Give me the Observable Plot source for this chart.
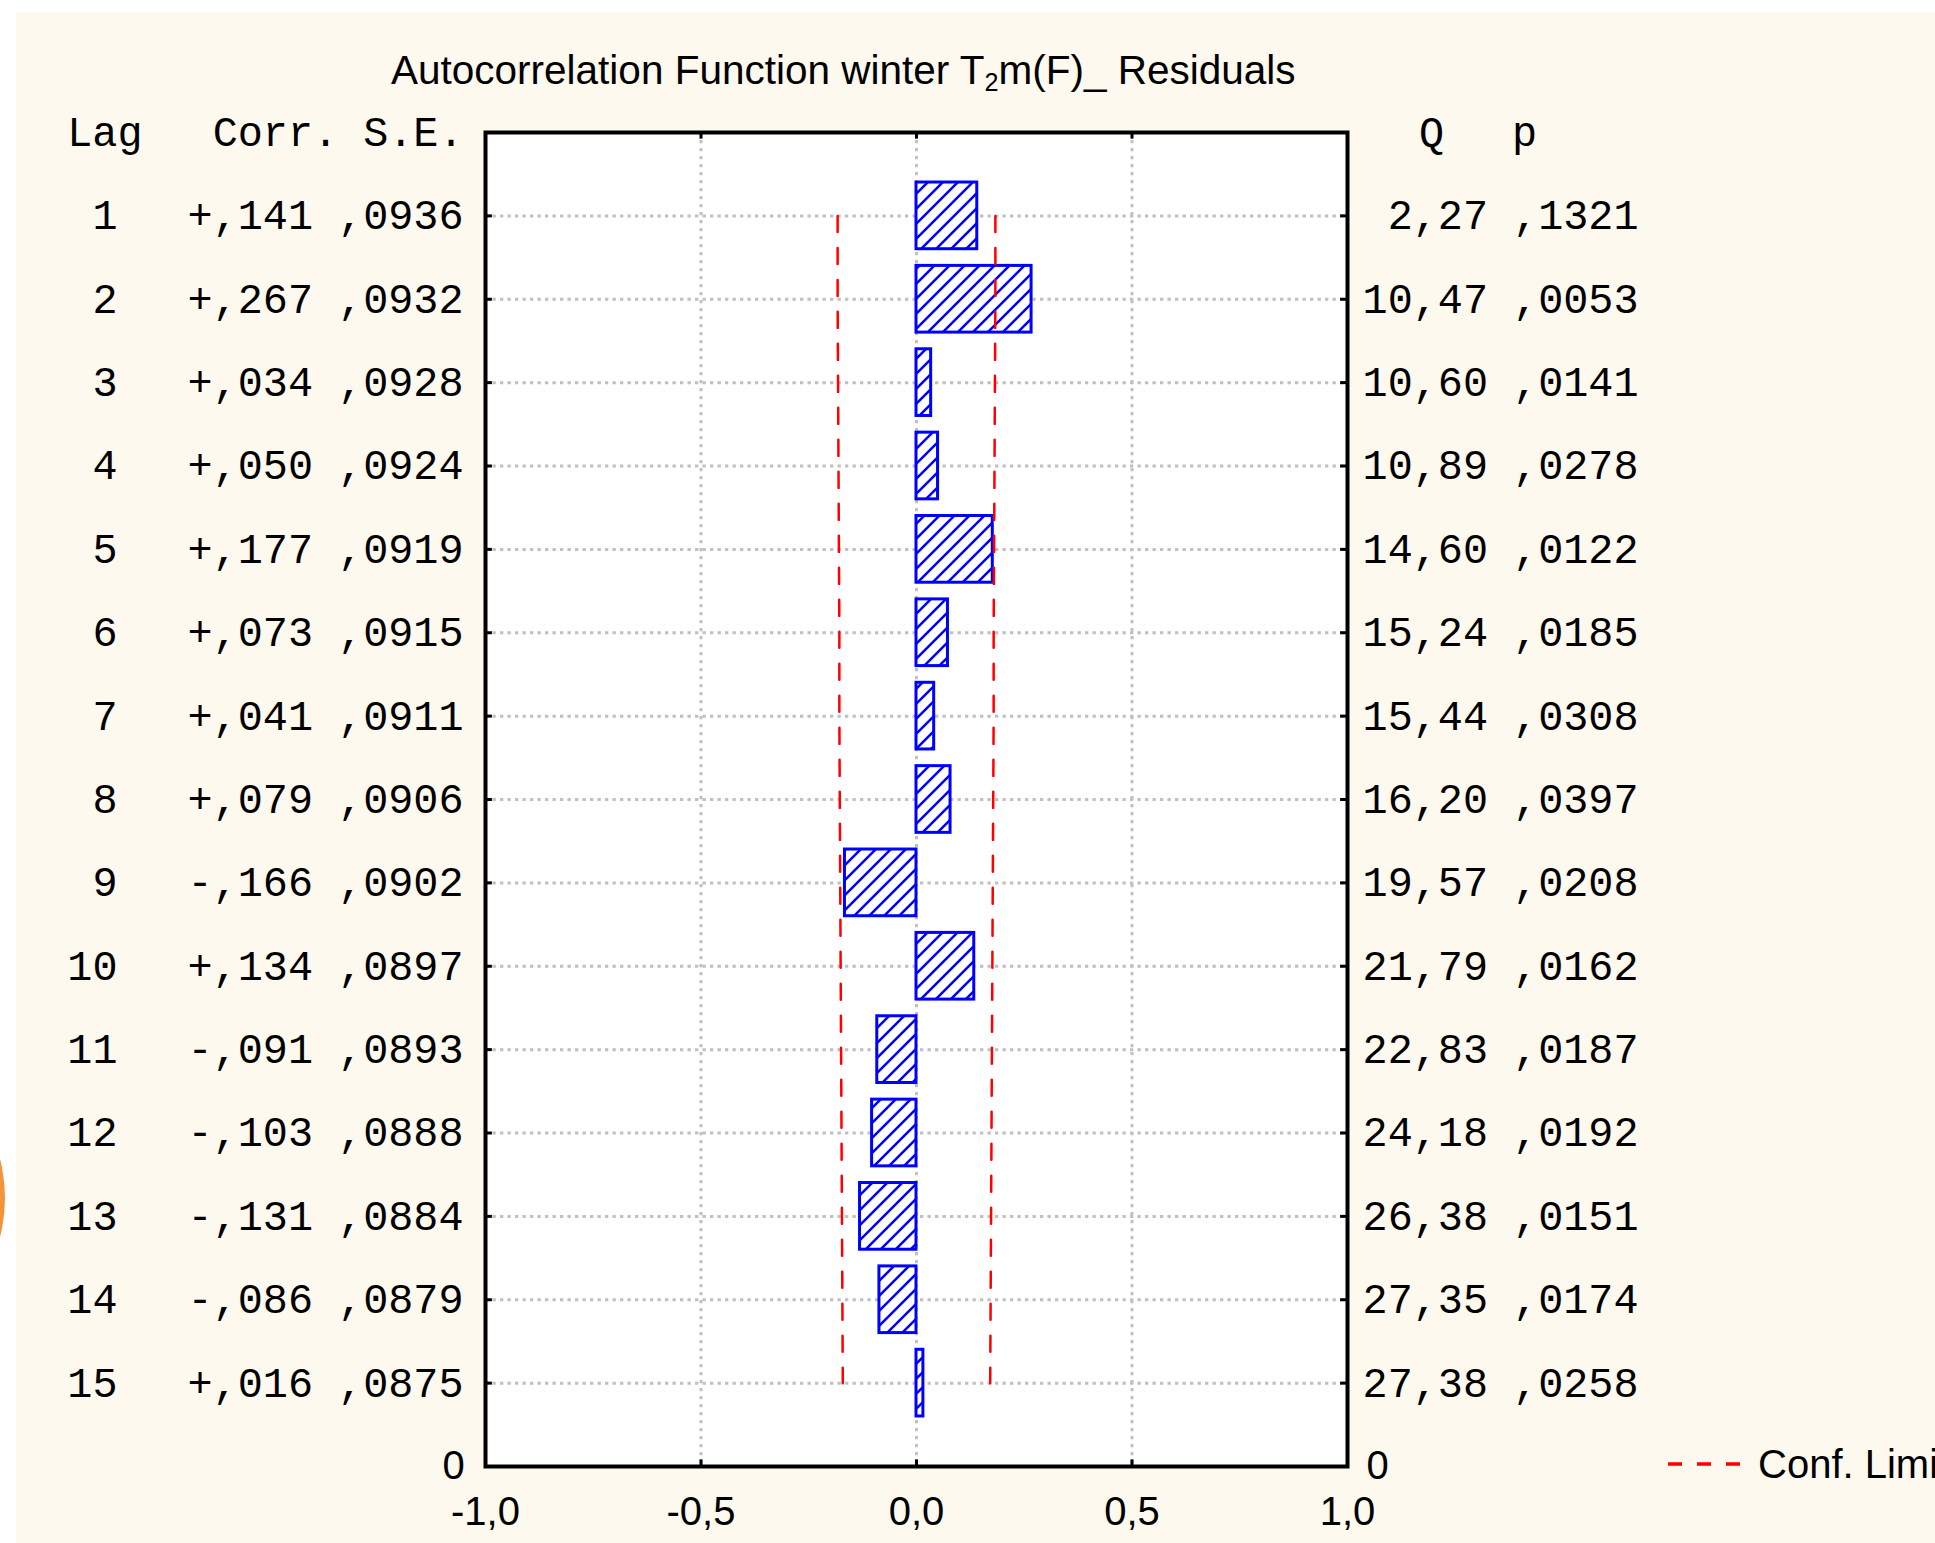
<!DOCTYPE html>
<html>
<head>
<meta charset="utf-8">
<script src="https://cdn.jsdelivr.net/npm/d3@7"></script>
<script src="https://cdn.jsdelivr.net/npm/@observablehq/plot@0.6"></script>
<style>
  html, body { margin: 0; padding: 0; background: #ffffff; width: 1935px; height: 1543px; overflow: hidden; }
  #page { position: relative; width: 1935px; height: 1543px; overflow: hidden; }
  #cream { position: absolute; left: 16px; top: 12px; right: 0; bottom: 0; background: #fef9ee; }
  #arc { position: absolute; left: -305px; top: 1043px; width: 310px; height: 310px; border-radius: 50%; background: #f4943a; }
  #chart { position: absolute; left: 0; top: 0; }
  #title { position: absolute; left: 391px; top: 50px; font: 40.5px "Liberation Sans", Arial, sans-serif; line-height: 40px; color: #000; white-space: nowrap; }
  #title sub { font-size: 0.62em; vertical-align: -0.28em; line-height: 0; }
  #legend { position: absolute; left: 1668px; top: 1444px; font: 40px "Liberation Sans", Arial, sans-serif; line-height: 40px; color: #000; white-space: nowrap; display: flex; align-items: center; }
  #legend svg { margin-right: 18px; }
</style>
</head>
<body>
<div id="page">
  <div id="arc"></div>
  <div id="cream"></div>
  <div id="chart"></div>
  <div id="title">Autocorrelation Function winter T<sub>2</sub>m(F)_ Residuals</div>
  <div id="legend"><svg width="72" height="10"><line x1="0" y1="5" x2="72" y2="5" stroke="#ff0000" stroke-width="3.5" stroke-dasharray="14,15"/></svg><span>Conf. Limit</span></div>
</div>
<script>
// ---- data ----
const lags = [1, 2, 3, 4, 5, 6, 7, 8, 9, 10, 11, 12, 13, 14, 15];
const corr = [0.141, 0.267, 0.034, 0.050, 0.177, 0.073, 0.041, 0.079, -0.166, 0.134, -0.091, -0.103, -0.131, -0.086, 0.016];
const stdErr = [0.0936, 0.0932, 0.0928, 0.0924, 0.0919, 0.0915, 0.0911, 0.0906, 0.0902, 0.0897, 0.0893, 0.0888, 0.0884, 0.0879, 0.0875];
const qStat = [2.27, 10.47, 10.60, 10.89, 14.60, 15.24, 15.44, 16.20, 19.57, 21.79, 22.83, 24.18, 26.38, 27.35, 27.38];
const pVal = [0.1321, 0.0053, 0.0141, 0.0278, 0.0122, 0.0185, 0.0308, 0.0397, 0.0208, 0.0162, 0.0187, 0.0192, 0.0151, 0.0174, 0.0258];
const confLimit = [0.183, 0.183, 0.182, 0.181, 0.180, 0.179, 0.179, 0.178, 0.177, 0.176, 0.175, 0.174, 0.173, 0.172, 0.171];
const xTicks = [-1, -0.5, 0, 0.5, 1];
const xGrid = [-0.5, 0, 0.5];

const rows = lags.map((lag, i) => ({lag, corr: corr[i], se: stdErr[i], q: qStat[i], p: pVal[i], cl: confLimit[i]}));

const fmtCorr = v => (v < 0 ? "-" : "+") + "," + String(Math.round(Math.abs(v) * 1000)).padStart(3, "0");
const fmt4 = v => "," + String(Math.round(v * 10000)).padStart(4, "0");
const fmtQ = v => v.toFixed(2).replace(".", ",");
const fmtTick = v => v.toFixed(1).replace(".", ",");

const mono = "'Liberation Mono', 'DejaVu Sans Mono', monospace";
const sans = "'Liberation Sans', Arial, sans-serif";
const monoSize = 41.8;
const gridStyle = {stroke: "#c0c0c0", strokeWidth: 3, strokeDasharray: "3.3,4.2"};
const tk = 0.016;  // inner tick length (x units)
const tkY = 0.08;  // inner tick length (y units)

const chart = Plot.plot({
  width: 1935,
  height: 1543,
  marginLeft: 485,
  marginRight: 588,
  marginTop: 132,
  marginBottom: 77,
  x: {domain: [-1, 1], axis: null},
  y: {domain: [0, 16], reverse: true, axis: null},
  style: {background: "transparent", overflow: "visible", fontFamily: sans},
  marks: [
    Plot.frame({fill: "white"}),
    Plot.ruleY(lags, gridStyle),
    Plot.ruleX(xGrid, {...gridStyle, strokeDasharray: "3.3,4.7"}),
    Plot.rect(rows, {x1: () => 0, x2: "corr", y1: d => d.lag - 0.4, y2: d => d.lag + 0.4,
      fill: "url(#hatch)", stroke: "#0000ff", strokeWidth: 3}),
    Plot.line(rows, {x: "cl", y: "lag", stroke: "#ff0000", strokeWidth: 2.5, strokeDasharray: "16,16"}),
    Plot.line(rows, {x: d => -d.cl, y: "lag", stroke: "#ff0000", strokeWidth: 2.5, strokeDasharray: "16,16"}),
    Plot.ruleY(lags, {x1: -1, x2: -1 + tk, stroke: "black", strokeWidth: 3}),
    Plot.ruleY(lags, {x1: 1 - tk, x2: 1, stroke: "black", strokeWidth: 3}),
    Plot.ruleX(xGrid, {y1: 0, y2: tkY, stroke: "black", strokeWidth: 3}),
    Plot.ruleX(xGrid, {y1: 16 - tkY, y2: 16, stroke: "black", strokeWidth: 3}),
    Plot.frame({stroke: "black", strokeWidth: 4}),
    // x tick labels
    Plot.text(xTicks, {x: d => d, text: fmtTick, frameAnchor: "bottom", lineAnchor: "top", dy: 30,
      fontSize: 40, fontFamily: sans, fill: "black"}),
    // bottom "0" labels on both sides
    Plot.text([16], {y: d => d, text: () => "0", frameAnchor: "left", textAnchor: "middle", dx: -32, fontSize: 40, fontFamily: sans, fill: "black"}),
    Plot.text([16], {y: d => d, text: () => "0", frameAnchor: "right", textAnchor: "middle", dx: 30, fontSize: 40, fontFamily: sans, fill: "black"}),
    // left table
    Plot.text([0], {y: d => d, text: () => "Lag", frameAnchor: "left", textAnchor: "end", dx: -343, fontSize: monoSize, fontFamily: mono, fill: "black"}),
    Plot.text([0], {y: d => d, text: () => "Corr. S.E.", frameAnchor: "left", textAnchor: "end", dx: -22, fontSize: monoSize, fontFamily: mono, fill: "black"}),
    Plot.text(rows, {y: "lag", text: d => String(d.lag), frameAnchor: "left", textAnchor: "end", dx: -368, fontSize: monoSize, fontFamily: mono, fill: "black"}),
    Plot.text(rows, {y: "lag", text: d => fmtCorr(d.corr) + " " + fmt4(d.se), frameAnchor: "left", textAnchor: "end", dx: -22, fontSize: monoSize, fontFamily: mono, fill: "black"}),
    // right table
    Plot.text([0], {y: d => d, text: () => "Q", frameAnchor: "right", textAnchor: "middle", dx: 84, fontSize: monoSize, fontFamily: mono, fill: "black"}),
    Plot.text([0], {y: d => d, text: () => "p", frameAnchor: "right", textAnchor: "middle", dx: 177, fontSize: monoSize, fontFamily: mono, fill: "black"}),
    Plot.text(rows, {y: "lag", text: d => fmtQ(d.q) + " " + fmt4(d.p), frameAnchor: "right", textAnchor: "end", dx: 291, fontSize: monoSize, fontFamily: mono, fill: "black"})
  ]
});

const defs = d3.select(chart).insert("defs", ":first-child");
const pat = defs.append("pattern").attr("id", "hatch").attr("patternUnits", "userSpaceOnUse")
  .attr("width", 15).attr("height", 15);
pat.append("rect").attr("width", 15).attr("height", 15).attr("fill", "white");
pat.append("path").attr("d", "M-4,4 L4,-4 M0,15 L15,0 M11,19 L19,11")
  .attr("stroke", "#0000ff").attr("stroke-width", 2.5);

document.getElementById("chart").appendChild(chart);
</script>
</body>
</html>
